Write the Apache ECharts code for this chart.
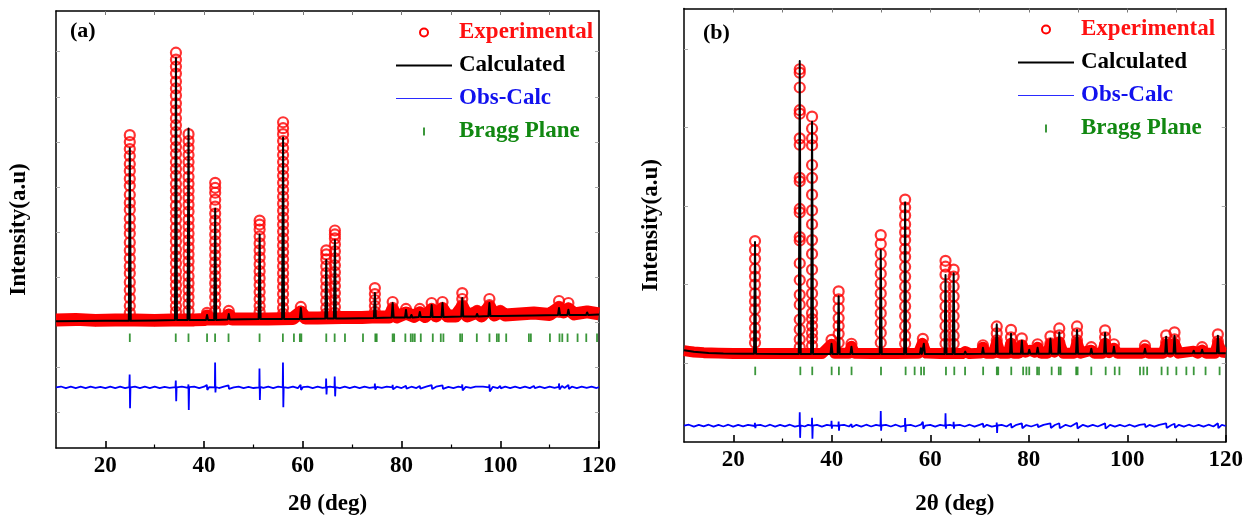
<!DOCTYPE html>
<html>
<head>
<meta charset="utf-8">
<script src="https://cdn.jsdelivr.net/npm/echarts@6.0.0/dist/echarts.min.js"></script>
<style>
html,body{margin:0;padding:0;background:#fff;}
#chart{width:1246px;height:521px;}
</style>
</head>
<body>
<div id="chart"></div>
<script>
// ---------- Panel (a) data (intensity in a.u.) ----------
const legendNames = ['Experimental', 'Calculated', 'Obs-Calc', 'Bragg Plane'];
const panelLabels = ['(a)', '(b)'];
const xTickLabels = [20, 40, 60, 80, 100, 120];

const expBgA = [[10,129],[14,129.5],[18,128.5],[22,129],[24.3,129],[26,129],[30,128.5],[33.5,129],[38,129],[40.2,129.5],[40.6,133],[41,130],[44.3,130],[45,134],[45.7,130],[48,130],[50.5,130],[53,130],[58,130.5],[59.6,137],[60.5,131],[63,131],[68,131.5],[70,131.5],[72,131.5],[74,132],[76,132],[77.5,132],[78.2,139],[79,132],[80.9,136],[81.8,134],[82.5,132.5],[83.7,136],[84.8,132.5],[86.1,139],[87,133],[88.3,140],[89.3,133],[91,133],[92.3,142],[93.3,133],[95.3,137],[96.2,133],[97.8,142],[98.8,134],[100,137],[101,134],[106.8,136],[110,134.5],[111.9,141],[112.8,137],[113.8,140],[115,135],[117.6,137],[120,135]];

const expPeaksA = [
  [24.95, [315,308,301,294,286,279,271,264,255,247,240,231,223,216,207,199,191,183,176,167,159,151,143,136]],
  [34.3, [398,391,384,377,369,362,355,347,340,332,325,318,310,303,296,288,281,274,266,259,252,244,237,230,222,215,208,200,193,186,178,171,164,157,150,143,137]],
  [36.85, [316,309,302,295,288,281,273,266,259,252,245,238,230,223,216,209,202,195,188,181,173,166,159,152,145,138]],
  [40.6, [136]],
  [42.25, [267,262,257,250,243,236,229,222,215,208,201,194,187,180,173,166,159,152,145,138]],
  [45.0, [138]],
  [51.25, [229,225,220,213,206,199,192,185,178,171,164,157,150,143,137]],
  [56.0, [328,322,316,309,302,295,288,281,274,267,260,253,246,239,232,225,218,211,204,197,190,183,176,169,162,155,148,141,135]],
  [59.6, [142,137]],
  [64.75, [199,195,190,183,176,169,162,155,148,141,135]],
  [66.5, [219,215,211,205,198,191,184,177,170,163,156,149,142,136]],
  [74.6, [161,155,149,143,137]],
  [78.2, [147,141,136]],
  [80.9, [140,135]],
  [83.7, [140,135]],
  [86.1, [146,140,135]],
  [88.3, [147,141,136]],
  [92.3, [156,150,144,138]],
  [95.3, [138]],
  [97.8, [150,144,138]],
  [100.0, [138]],
  [111.9, [148,142,137]],
  [113.8, [146,140]]
];

const calcA = [[10,127.5],[20,128],[24.75,128],[24.95,301.7],[25.15,128],[30,128.5],[34.1,129],[34.3,392.7],[34.5,129],[36.65,129],[36.85,321.7],[37.05,129],[40.4,129],[40.6,134],[40.8,129],[42.05,129],[42.25,241],[42.45,129],[44.8,129.5],[45.0,135],[45.2,129.5],[51.05,130],[51.25,215],[51.45,130],[55.8,130],[56.0,312.7],[56.2,130],[58.0,130],[58.2,131.5],[58.4,130],[59.4,130],[59.6,141],[59.8,130],[64.55,130.5],[64.75,189.3],[64.95,130.5],[66.3,130.5],[66.5,209.3],[66.7,130.5],[68.3,130.5],[68.5,131.5],[68.7,130.5],[74.4,131],[74.6,156],[74.8,131],[78.0,131.5],[78.2,146],[78.4,131.5],[80.7,131.5],[80.9,139],[81.1,131.5],[81.8,131.5],[82.0,134],[82.2,131.5],[83.5,132],[83.7,137],[83.9,132],[85.9,132],[86.1,144],[86.3,132],[88.1,132],[88.3,146],[88.5,132],[92.1,132.5],[92.3,151],[92.5,132.5],[95.1,132.5],[95.3,135],[95.5,132.5],[97.6,133],[97.8,146],[98.0,133],[99.8,133],[100.0,135],[100.2,133],[106.6,133.5],[106.8,135],[107.0,133.5],[111.7,134],[111.9,141],[112.1,134],[113.6,134],[113.8,139.3],[114.0,134],[117.4,134],[117.6,136.5],[117.8,134],[120,134.5]];

const diffA = [[10,61],[11,61.9],[12,60.2],[13,61.8],[14,60.4],[15,61.7],[16,60.3],[17,61.9],[18,60.5],[19,61.6],[20,60.3],[21,61.8],[22,60.4],[23,61.7],[24,60.3],[24.85,61.4],[24.92,74],[25.0,40],[25.08,61],[26,61.8],[27,60.3],[28,61.7],[29,60.4],[30,61.8],[31,60.2],[32,61.6],[33,60.5],[34.2,61.3],[34.27,68],[34.35,47],[34.43,61],[35.5,61.8],[36.78,60.6],[36.83,64],[36.9,38.3],[36.98,61.2],[38,61.8],[39,60.3],[40,61.7],[40.55,63.5],[40.65,58.5],[41,61.2],[42.18,61],[42.23,86],[42.3,56],[42.38,61.4],[43,60.4],[44,61.8],[44.95,63],[45.05,59.5],[46,61],[47,61.9],[48,60.3],[49,61.6],[50,60.4],[51.18,61],[51.22,80],[51.3,48.3],[51.38,61.5],[52,60.5],[53,61.8],[54,60.3],[55,61.7],[55.93,61],[55.98,86],[56.05,41],[56.13,61.4],[57,60.5],[58,61.9],[59,60.3],[59.55,63.5],[59.65,58.5],[60,61.2],[61,61.9],[62,60.3],[63,61.7],[64,60.5],[64.68,61],[64.72,70],[64.8,54],[64.88,61.3],[65.5,61.9],[66.42,61],[66.46,72],[66.55,52],[66.63,61.2],[67.5,60.4],[68.5,61.8],[69.5,60.3],[70.5,61.7],[71.5,60.4],[72.5,61.8],[73.5,60.5],[74.55,61.2],[74.6,65],[74.68,58.8],[75,61.6],[76,60.5],[77,61.8],[78.15,61],[78.2,63.5],[78.28,59],[79,61.7],[80,60.4],[80.9,62.5],[81,59.8],[82,61.7],[83,60.3],[83.7,62.5],[83.8,59.8],[85,61.7],[86.1,63.2],[86.2,59.3],[87,61.7],[88.3,63],[88.4,59.5],[89.5,61.6],[90.5,60.4],[91.5,61.8],[92.25,61],[92.3,64],[92.38,58],[93,61.6],[94,60.5],[95,61.8],[95.3,62.5],[95.4,60],[96.5,61.7],[97.75,61],[97.8,64],[97.88,57],[98.5,61.6],[99.5,60.4],[100,62.5],[100.1,60],[101,61.8],[102,60.3],[103,61.7],[104,60.4],[105,61.8],[106,60.3],[106.8,62.5],[107,60.2],[108,61.8],[109,60.4],[110,61.7],[111,60.5],[111.85,61.5],[111.9,65],[112,59],[112.5,62.5],[113,60.5],[113.8,63.5],[113.9,59.5],[114.5,61.7],[115.5,60.3],[116.5,61.8],[117.5,60.5],[118.5,61.8],[119.5,60.4],[120,61.3]];

const braggA = [24.95,34.26,36.84,40.6,42.23,44.95,51.24,55.96,58.2,59.4,59.7,64.75,66.45,68.54,72.19,74.69,74.97,78.2,78.5,80.77,81.87,82.27,82.68,83.9,86.33,87.95,88.48,91.87,92.27,95.25,97.81,99.31,99.7,101.2,105.8,106.2,110.06,112.0,112.56,113.63,115.66,117.42,119.6];
const braggLevelA = 111;

// ---------- Panel (b) data ----------
const expBgB = [[10,92.5],[11,91.8],[12,91.2],[14,90.5],[17,90],[20,89.5],[24,89.5],[28,89.5],[33,89.5],[38,89.5],[39.95,99],[40.6,90],[43.5,90],[44.0,97],[44.6,90],[48,89.5],[53,89.5],[57.6,90],[58.4,100],[59.2,90],[62,89.5],[66.5,89.5],[67.1,91.5],[68,89.5],[70.2,90],[70.7,96],[71.3,90],[72.8,90],[73.5,101],[74.2,90],[75.8,90],[76.4,100],[77,90],[78.0,90],[78.6,98],[79.3,91],[80.2,93],[81.2,91],[81.8,96],[82.5,90],[83.8,90],[84.4,99],[85.2,91],[86.2,101],[87.0,90],[89.2,90],[89.8,101],[90.5,90],[92.7,93],[93.3,90],[94.9,90],[95.5,100],[96.3,90.5],[97.3,95],[98,90],[103.0,90],[103.6,94.5],[104.3,90],[107.3,90],[107.9,99],[108.7,91],[109.6,100],[110.4,90],[113.5,92],[114.3,90],[115.2,93],[116,90],[117.8,90],[118.4,100],[119.2,91],[120,90.5]];

const expPeaksB = [
  [24.42, [203.5,194.5,185.5,175.5,167.5,159.5,150.5,142.5,134.5,124.5,115.5,107.5,100.5]],
  [33.5, [377.5,374,359,336,332.5,307.5,301,267.5,264,236,232.5,207.5,204,181,164,149,139,124,114,104,96]],
  [36.0, [329.5,317.5,307.5,300.5,280.5,267.5,250.5,234.5,220.5,204.5,190.5,174.5,160.5,150.5,140.5,130.5,124.5,117.5,110.5,104.5,97.5]],
  [39.95, [103.5,98]],
  [41.4, [152.5,144.5,135.5,125.5,117.5,109.5,100.5]],
  [44.0, [99.5]],
  [49.95, [209.5,200.5,190.5,180.5,170.5,160.5,150.5,140.5,130.5,120.5,110.5,100.5]],
  [54.9, [245.5,237.5,229.5,220.5,212.5,204.5,195.5,187.5,177.5,167.5,157.5,147.5,137.5,127.5,117.5,107.5,99.5]],
  [58.5, [104.5,98]],
  [63.1, [183.5,177.5,169.5,157.5,147.5,137.5,127.5,117.5,107.5,99.5]],
  [64.75, [174.5,167.5,157.5,147.5,137.5,127.5,117.5,107.5,99.5]],
  [70.7, [98]],
  [73.5, [117,110,103,97]],
  [76.4, [113.5,106,99]],
  [78.6, [105,98]],
  [81.8, [99]],
  [84.4, [107,100]],
  [86.2, [115,108,101]],
  [89.8, [117,110,103,97]],
  [92.7, [96]],
  [95.5, [113,106,99]],
  [97.3, [99]],
  [103.6, [97.5]],
  [107.9, [108,101]],
  [109.6, [111,104,97]],
  [115.2, [96]],
  [118.4, [109,102,96]]
];

const calcB = [[10,93],[12,91.5],[15,90.2],[18,89.6],[22,89.3],[24.22,89.3],[24.42,202.5],[24.62,89.3],[30,89.2],[33.3,89.2],[33.5,385.8],[33.7,89.2],[35.8,89.2],[36.0,324.2],[36.2,89.2],[39.75,89.2],[39.95,99.5],[40.15,89.2],[41.2,89.2],[41.4,147.5],[41.6,89.2],[43.8,89.2],[44.0,96.5],[44.2,89.2],[49.75,89.2],[49.95,194.2],[50.15,89.2],[54.7,89.2],[54.9,242.5],[55.1,89.2],[57.9,89.2],[58.1,95],[58.3,89.2],[58.5,89.2],[58.7,99.5],[58.9,89.2],[62.9,89.2],[63.1,169.2],[63.3,89.2],[64.55,89.2],[64.75,170.8],[64.95,89.2],[66.9,89.2],[67.1,91.5],[67.3,89.2],[70.5,89.3],[70.7,95.5],[70.9,89.3],[73.3,89.3],[73.5,119.2],[73.7,89.3],[76.2,89.3],[76.4,109.5],[76.6,89.3],[78.4,89.3],[78.6,102.5],[78.8,89.3],[79.9,89.3],[80.1,93.5],[80.3,89.3],[81.6,89.3],[81.8,95.5],[82.0,89.3],[84.2,89.4],[84.4,104.5],[84.6,89.4],[86.0,89.4],[86.2,110.8],[86.4,89.4],[89.6,89.4],[89.8,113.5],[90.0,89.4],[92.5,89.4],[92.7,94.5],[92.9,89.4],[95.3,89.5],[95.5,110.5],[95.7,89.5],[97.1,89.5],[97.3,96.5],[97.5,89.5],[103.4,89.6],[103.6,94.5],[103.8,89.6],[107.7,89.7],[107.9,106.5],[108.1,89.7],[109.4,89.7],[109.6,107.5],[109.8,89.7],[113.3,89.8],[113.5,92.5],[113.7,89.8],[115.0,89.8],[115.2,93.5],[115.4,89.8],[118.2,89.9],[118.4,107.5],[118.6,89.9],[120,90]];

const diffB = [[10,16.5],[11,17.5],[12,15.6],[13,17.4],[14,15.8],[15,17.5],[16,15.5],[17,17.3],[18,15.7],[19,17.5],[20,15.6],[21,17.4],[22,15.8],[23,17.3],[24.35,16.2],[24.4,19.5],[24.48,14],[24.6,16.8],[25.5,17.4],[26.5,15.7],[27.5,17.5],[28.5,15.6],[29.5,17.3],[30.5,15.8],[31.5,17.5],[32.5,15.6],[33.45,16.5],[33.5,30.2],[33.58,4.2],[33.65,16.8],[34.5,15.7],[35.2,17.4],[35.95,16.5],[36.0,24.5],[36.08,3.2],[36.15,16.6],[37,17.4],[38,15.6],[39,17.3],[39.9,16.5],[39.95,21.5],[40.02,13.5],[40.1,16.8],[41.35,16.4],[41.4,20.8],[41.47,11.5],[41.55,16.8],[42.5,17.4],[43.5,15.7],[44,18],[44.1,15],[45,17.4],[46,15.6],[47,17.5],[48,15.7],[49,17.4],[49.9,16.4],[49.95,31.5],[50.02,11.5],[50.1,16.7],[51,17.4],[52,15.7],[53,17.5],[54,15.6],[54.85,16.5],[54.9,24.2],[54.97,10.2],[55.05,16.8],[56,17.4],[57,15.7],[58.1,17.5],[58.5,20.5],[58.6,13.5],[59,16.6],[60,17.4],[61,15.6],[62,17.4],[63.05,16.4],[63.1,29.2],[63.17,13.5],[63.25,16.8],[64,17.3],[64.7,16.4],[64.75,20.5],[64.82,13.5],[64.9,16.7],[66,17.4],[67,15.7],[68,17.5],[69,15.6],[70,17.4],[70.7,18.5],[70.8,15],[71.5,17.4],[72.5,15.6],[73.45,16.5],[73.5,19.8],[73.57,9.2],[73.65,16.7],[74.5,17.4],[75.5,15.7],[76.4,18.5],[76.5,14.5],[77.5,17.4],[78.6,18.8],[78.7,14],[79.5,17.2],[80.5,15.7],[81.8,18],[81.9,15],[83,17.4],[84.4,18.8],[84.5,14.2],[85.3,17.2],[86.2,19],[86.3,14],[87.5,17.4],[88.5,15.7],[89.8,19.5],[89.9,13.8],[91,17.4],[92,15.6],[93,17.4],[94,15.7],[95.5,18.8],[95.6,13.5],[96.5,17.3],[97.5,15.6],[98.5,17.4],[99.5,15.7],[100.5,17.5],[101.5,15.6],[102.5,17.4],[103.6,18],[103.7,15],[104.5,17.3],[105.5,15.6],[106.5,17.4],[107.9,18.8],[108,14.2],[109,17.2],[109.6,18.5],[109.7,14.5],[110.5,17.4],[111.5,15.6],[112.5,17.5],[113.5,15.7],[114.5,17.4],[115.5,15.6],[116.5,17.5],[117.5,15.7],[118.4,19],[118.5,14],[119.2,17.4],[120,16.2]];

const braggB = [24.46,33.62,36.04,39.98,41.45,44.02,50.0,55.0,56.83,58.14,58.73,63.19,64.88,67.07,70.74,73.52,73.8,76.45,78.86,79.52,80.1,81.7,82.08,84.65,86.1,86.48,89.63,89.92,92.7,95.62,97.46,98.41,102.59,103.3,104.04,106.97,108.2,109.97,112.0,113.5,115.9,118.75];
const braggLevelB = 72;

// y-axis tick positions (unlabelled) and ranges
const yTicksA = [36,81,127,172,217,263,308,353,399];
const yTicksB = [80,159.5,239,318.5,398];
const yMaxA = 440, yMaxB = 439;

// ---------- build chart ----------
const FONT = 'Liberation Serif';
const RED = '#ff0000', BLACK = '#000000', BLUE = '#0000ff', GREEN = '#0a7d0a';
const FS = 23;

function ringsFrom(peaks) {
  const out = [];
  peaks.forEach(([x, ys]) => ys.forEach(y => out.push([x, y])));
  return out;
}

function xAxesFor(g, nameGap) {
  return [
    { type: 'value', gridIndex: g, min: 10, max: 120, position: 'bottom',
      axisLine: { onZero: false, lineStyle: { color: BLACK, width: 1.5 } },
      axisTick: { inside: true, length: 7, lineStyle: { color: BLACK, width: 1.6 }, customValues: xTickLabels },
      axisLabel: { customValues: xTickLabels, fontFamily: FONT, fontWeight: 'bold', fontSize: FS, color: BLACK, margin: 7 },
      splitLine: { show: false },
      name: '2\u03b8 (deg)', nameLocation: 'middle', nameGap: nameGap,
      nameTextStyle: { fontFamily: FONT, fontWeight: 'bold', fontSize: FS, color: BLACK } },
    { type: 'value', gridIndex: g, min: 10, max: 120, position: 'bottom',
      axisLine: { show: false },
      axisTick: { inside: true, length: 3.5, lineStyle: { color: BLACK, width: 1.2 }, customValues: [30,50,70,90,110] },
      axisLabel: { show: false }, splitLine: { show: false } },
    { type: 'value', gridIndex: g, min: 10, max: 120, position: 'top',
      axisLine: { onZero: false, lineStyle: { color: BLACK, width: 1.5 } },
      axisTick: { inside: true, length: 4, lineStyle: { color: '#777', width: 1 }, customValues: [20,30,40,50,60,70,80,90,100,110] },
      axisLabel: { show: false }, splitLine: { show: false } }
  ];
}

function yAxesFor(g, max, ticks, nameGap) {
  return [
    { type: 'value', gridIndex: g, min: 0, max: max, position: 'left',
      axisLine: { onZero: false, lineStyle: { color: BLACK, width: 1.5 } },
      axisTick: { inside: true, length: 4, lineStyle: { color: '#aaa', width: 1 }, customValues: ticks },
      axisLabel: { show: false }, splitLine: { show: false },
      name: 'Intensity(a.u)', nameLocation: 'middle', nameGap: nameGap, nameRotate: 90,
      nameTextStyle: { fontFamily: FONT, fontWeight: 'bold', fontSize: FS, color: BLACK } },
    { type: 'value', gridIndex: g, min: 0, max: max, position: 'right',
      axisLine: { onZero: false, lineStyle: { color: BLACK, width: 1.5 } },
      axisTick: { inside: true, length: 4, lineStyle: { color: '#aaa', width: 1 }, customValues: ticks },
      axisLabel: { show: false }, splitLine: { show: false } }
  ];
}

function seriesFor(xi, yi, bg, peaks, calc, diff, bragg, level, bandWidth) {
  return [
    { name: 'Experimental', type: 'line', xAxisIndex: xi, yAxisIndex: yi, data: bg,
      symbol: 'none', lineStyle: { color: RED, width: bandWidth, join: 'round', cap: 'butt' }, itemStyle: { color: RED }, z: 1, silent: true },
    { name: 'Experimental', type: 'scatter', xAxisIndex: xi, yAxisIndex: yi, data: ringsFrom(peaks),
      symbol: 'circle', symbolSize: 10,
      itemStyle: { color: 'rgba(255,255,255,0)', borderColor: RED, borderWidth: 2.2 }, z: 2, silent: true },
    { name: 'Calculated', type: 'line', xAxisIndex: xi, yAxisIndex: yi, data: calc,
      symbol: 'none', lineStyle: { color: BLACK, width: 2, join: 'round' }, itemStyle: { color: BLACK }, z: 3, silent: true },
    { name: 'Obs-Calc', type: 'line', xAxisIndex: xi, yAxisIndex: yi, data: diff,
      symbol: 'none', lineStyle: { color: BLUE, width: 1.8 }, itemStyle: { color: BLUE }, z: 3, silent: true },
    { name: 'Bragg Plane', type: 'scatter', xAxisIndex: xi, yAxisIndex: yi, data: bragg.map(x => [x, level]),
      symbol: 'rect', symbolSize: [1.8, 8.5], itemStyle: { color: GREEN }, z: 3, silent: true }
  ];
}

const legendItems = [
  { name: legendNames[0], icon: 'emptyCircle', itemStyle: { color: RED }, textStyle: { color: '#ff1111' } },
  { name: legendNames[1], icon: 'path://M0,0H56V2H0Z', itemStyle: { color: BLACK }, textStyle: { color: BLACK } },
  { name: legendNames[2], icon: 'path://M0,0H56V1.2H0Z', itemStyle: { color: '#2a2aff' }, textStyle: { color: '#1111ee' } },
  { name: legendNames[3], icon: 'path://M0,0H2V8H0Z', itemStyle: { color: GREEN }, textStyle: { color: '#118811' } }
];
function legendAt(left, top) {
  return { left: left, top: top, orient: 'vertical', padding: 0, itemWidth: 56, itemHeight: 8, itemGap: 10,
    selectedMode: false, data: legendItems,
    textStyle: { fontFamily: FONT, fontWeight: 'bold', fontSize: FS, padding: [0, 0, 0, 2] } };
}

const chart = echarts.init(document.getElementById('chart'), null, { renderer: 'canvas' });
chart.setOption({
  animation: false,
  backgroundColor: '#ffffff',
  textStyle: { fontFamily: FONT },
  title: [
    { text: panelLabels[0], left: 70, top: 20, padding: 0, textStyle: { fontFamily: FONT, fontWeight: 'bold', fontSize: 22, color: BLACK } },
    { text: panelLabels[1], left: 703, top: 22, padding: 0, textStyle: { fontFamily: FONT, fontWeight: 'bold', fontSize: 22, color: BLACK } }
  ],
  legend: [legendAt(396, 21), legendAt(1018, 18)],
  grid: [
    { left: 56, top: 11, width: 543, height: 440, containLabel: false },
    { left: 684, top: 8.5, width: 545, height: 439, containLabel: false }
  ],
  xAxis: [].concat(xAxesFor(0, 45), xAxesFor(1, 51)),
  yAxis: [].concat(yAxesFor(0, yMaxA, yTicksA, 25), yAxesFor(1, yMaxB, yTicksB, 21)),
  series: [].concat(
    seriesFor(0, 0, expBgA, expPeaksA, calcA, diffA, braggA, braggLevelA, 13),
    seriesFor(3, 2, expBgB, expPeaksB, calcB, diffB, braggB, braggLevelB, 11)
  )
});
</script>
</body>
</html>
